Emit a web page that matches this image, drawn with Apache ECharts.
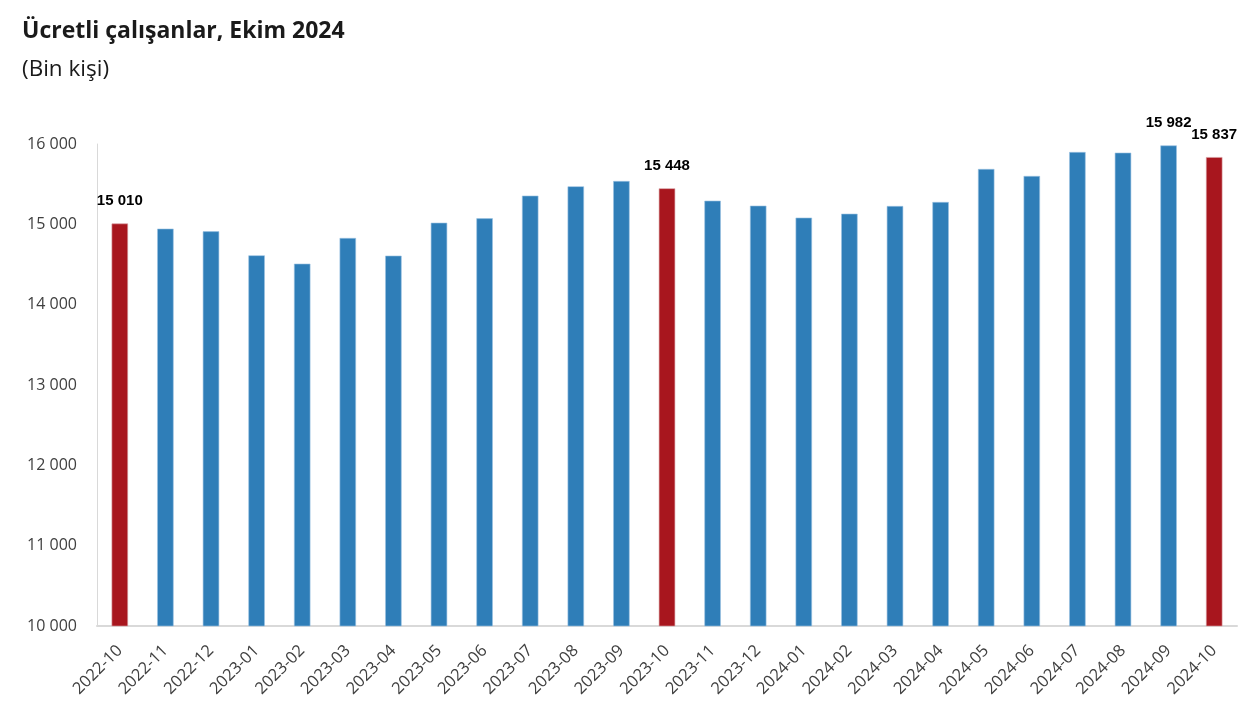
<!DOCTYPE html>
<html>
<head>
<meta charset="utf-8">
<script src="https://cdn.jsdelivr.net/npm/echarts@6/dist/echarts.min.js"></script>
<style>
html,body{margin:0;padding:0;background:#fff;}
#c{width:1242px;height:707px;}
</style>
</head>
<body>
<div id="c"></div>
<script>
const categories = ["2022-10","2022-11","2022-12","2023-01","2023-02","2023-03","2023-04","2023-05","2023-06","2023-07","2023-08","2023-09","2023-10","2023-11","2023-12","2024-01","2024-02","2024-03","2024-04","2024-05","2024-06","2024-07","2024-08","2024-09","2024-10"];
const values = [15010,14946,14913,14614,14510,14830,14610,15020,15075,15357,15473,15539,15448,15294,15232,15083,15132,15228,15278,15689,15602,15900,15892,15982,15837];
const highlighted = ["2022-10","2023-10","2024-10"];
const labelled = ["2022-10","2023-10","2024-09","2024-10"];
const yTicks = [10000,11000,12000,13000,14000,15000,16000];

const BLUE = "#2F7EB8", RED = "#A8161E";
const fmt = v => String(v).replace(/\B(?=(\d{3})+(?!\d))/g, " ");

const chart = echarts.init(document.getElementById('c'));
chart.setOption({
  backgroundColor: '#fff',
  animation: false,
  title: [
    {text: 'Ücretli çalışanlar, Ekim 2024', left: 17, top: 15,
     textStyle: {fontFamily: 'Open Sans', fontWeight: 'bold', fontSize: 23, color: '#1a1a1a'}},
    {text: '(Bin kişi)', left: 17, top: 53,
     textStyle: {fontFamily: 'Open Sans', fontWeight: 'normal', fontSize: 22.5, color: '#1a1a1a'}}
  ],
  grid: {left: 97, right: 5, top: 144, bottom: 81, containLabel: false},
  xAxis: {
    type: 'category', data: categories,
    axisLine: {lineStyle: {color: '#d9d9d9', width: 2}},
    axisTick: {show: false},
    axisLabel: {rotate: 45, interval: 0, margin: 22, padding: [0, 0, 14, 0], color: '#404040', fontSize: 16.5, fontFamily: 'Open Sans'}
  },
  yAxis: {
    type: 'value', min: yTicks[0], max: yTicks[yTicks.length-1], interval: 1000,
    axisLine: {show: true, lineStyle: {color: '#d9d9d9', width: 1}},
    axisTick: {show: false},
    splitLine: {show: false},
    axisLabel: {margin: 20, color: '#404040', fontSize: 16, fontFamily: 'Open Sans', formatter: v => fmt(v)}
  },
  series: [{
    type: 'bar', barWidth: '36%',
    data: values.map((v, i) => {
      const c = categories[i];
      const d = {value: v, itemStyle: {color: highlighted.includes(c) ? RED : BLUE,
                 borderColor: highlighted.includes(c) ? '#d9a0a3' : '#9cc3e2', borderWidth: 0.6}};
      if (labelled.includes(c)) {
        d.label = {show: true, position: 'top', distance: 15, formatter: p => fmt(p.value),
                   fontFamily: 'Liberation Sans', fontWeight: 'bold', fontSize: 15, color: '#000'};
      }
      return d;
    })
  }]
});
</script>
</body>
</html>
